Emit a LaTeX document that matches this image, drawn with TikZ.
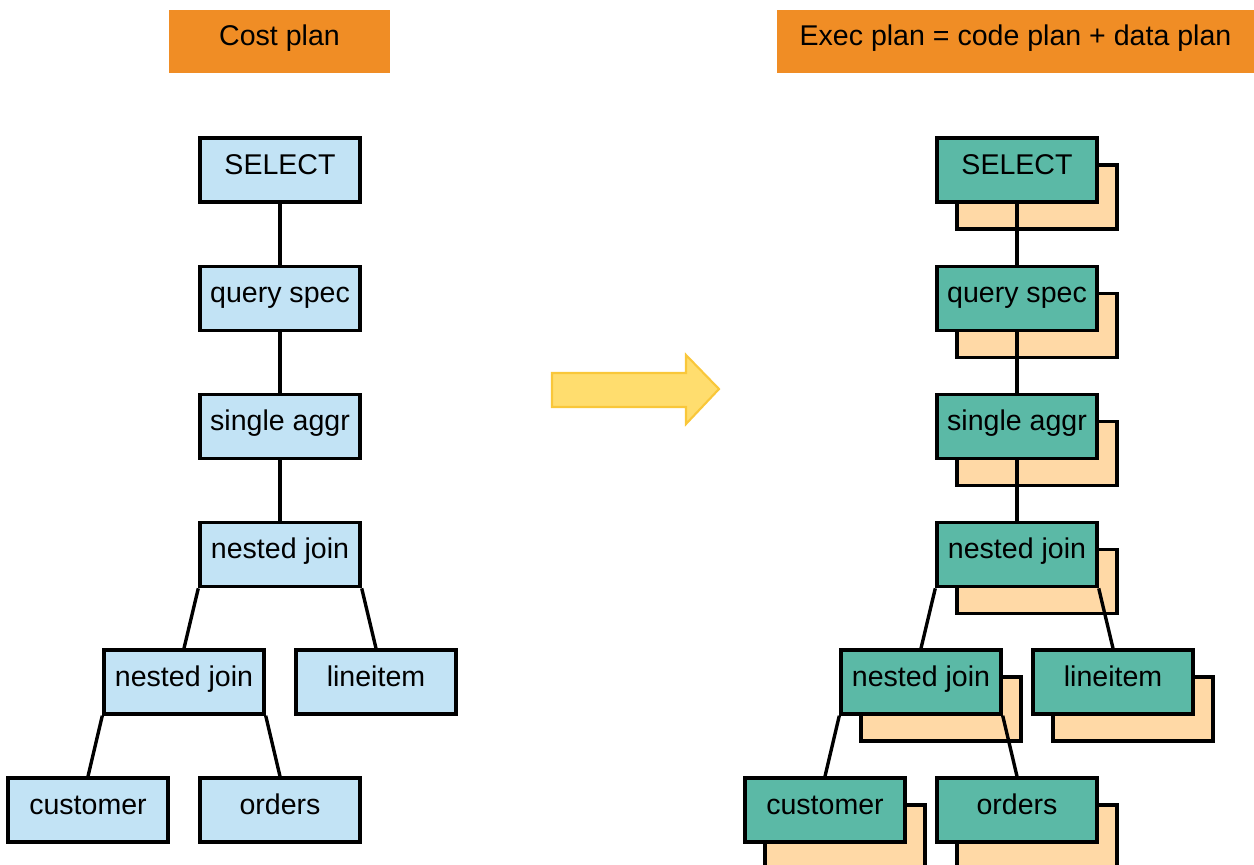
\documentclass[tikz,border=0pt]{standalone}
\usepackage{fontspec}
\setmainfont{Liberation Sans}
\usetikzlibrary{positioning,shadows}
\definecolor{costblue}{HTML}{C2E3F5}
\definecolor{execgreen}{HTML}{5BB9A6}
\definecolor{datapeach}{HTML}{FFD9A6}
\definecolor{titleorange}{HTML}{F08D25}
\definecolor{arrowyellow}{HTML}{FFDD6E}
\definecolor{arrowedge}{HTML}{F9C73A}

\begin{document}
\begin{tikzpicture}[
    x=0.025cm, y=-0.025cm,
    font=\fontsize{20.3}{24}\selectfont,
    node distance=1.52cm,
    title/.style={fill=titleorange, minimum height=1.575cm, inner sep=0pt, text height=0.7em, text depth=0.08em},
    costop/.style={draw, fill=costblue, line width=2.4pt, minimum width=4cm, minimum height=1.6cm, inner sep=0pt, text height=0.7em, text depth=0.08em},
    execop/.style={costop, fill=execgreen, copy shadow={shadow xshift=0.5cm, shadow yshift=-0.675cm, fill=datapeach, draw=black}},
    link/.style={line width=2.4pt}
]
\useasboundingbox (0,0) rectangle (1254,864);

% Titles
\node[title, minimum width=5.525cm] (t-cost) at (279.5,41.5) {Cost plan};
\node[title, minimum width=11.925cm] (t-exec) at (1015.5,41.5) {Exec plan = code plan + data plan};

% Cost plan (left tree)
\node[costop] (c1) at (280,170) {SELECT};
\node[costop, below=of c1] (c2) {query spec};
\node[costop, below=of c2] (c3) {single aggr};
\node[costop, below=of c3] (c4) {nested join};
\node[costop] (c5) at (184,682) {nested join};
\node[costop] (c6) at (376,682) {lineitem};
\node[costop] (c7) at (88,810) {customer};
\node[costop] (c8) at (280,810) {orders};

\foreach \i/\j in {c1/c2, c2/c3, c3/c4}
  \draw[link] (\i.south) -- (\j.north);
\draw[link] (c4.south west) -- (c5.north);
\draw[link] (c4.south east) -- (c6.north);
\draw[link] (c5.south west) -- (c7.north);
\draw[link] (c5.south east) -- (c8.north);

% Big arrow
\draw[fill=arrowyellow, draw=arrowedge, line width=1.5pt, line join=miter]
  (552,373) -- (686,373) -- (686,355) -- (719,389) -- (686,424) -- (686,407) -- (552,407) -- cycle;

% Exec plan (right tree, shadows = data plan)
\node[execop] (e1) at (1017,170) {SELECT};
\node[execop, below=of e1] (e2) {query spec};
\node[execop, below=of e2] (e3) {single aggr};
\node[execop, below=of e3] (e4) {nested join};
\node[execop] (e5) at (921,682) {nested join};
\node[execop] (e6) at (1113,682) {lineitem};
\node[execop] (e7) at (825,810) {customer};
\node[execop] (e8) at (1017,810) {orders};

\foreach \i/\j in {e1/e2, e2/e3, e3/e4}
  \draw[link] (\i.south) -- (\j.north);
\draw[link] (e4.south west) -- (e5.north);
\draw[link] (e4.south east) -- (e6.north);
\draw[link] (e5.south west) -- (e7.north);
\draw[link] (e5.south east) -- (e8.north);

\end{tikzpicture}
\end{document}
